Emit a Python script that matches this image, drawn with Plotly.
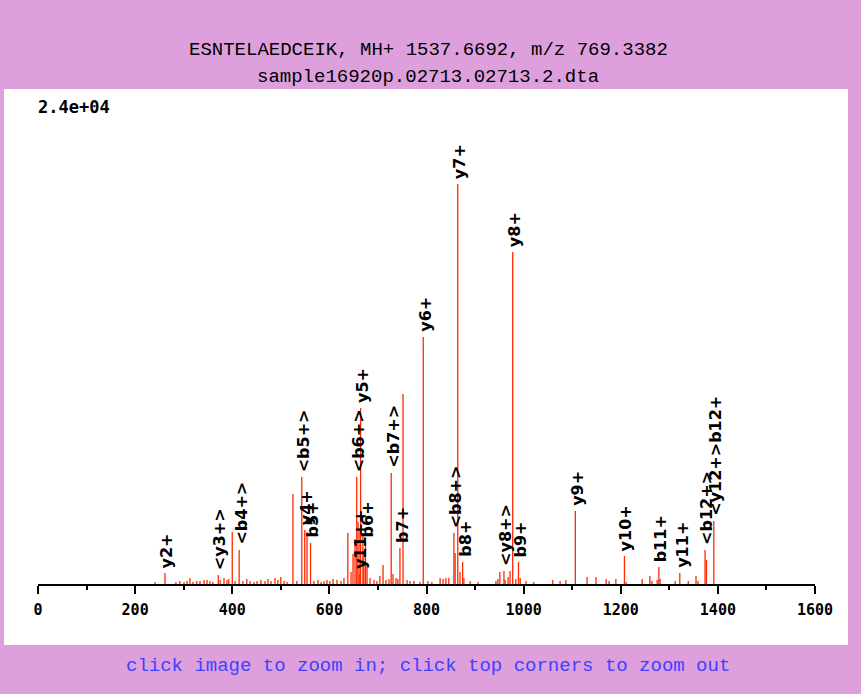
import plotly.graph_objects as go

# ---- data ----
peak_mz = [241, 261.5, 284, 292, 300.7, 307, 313, 319, 327, 333.6, 342, 348, 354, 360,
           371.2, 375, 383, 389.2, 393, 400, 405.7, 414.2, 422, 430, 436.6, 445, 451, 459,
           467.5, 473.6, 479.8, 488, 494, 500, 506.6, 512.8, 525, 533, 543.2, 549.3, 554,
           561.2, 568, 576.6, 583, 589, 595, 601, 607.5, 615.7, 624, 630, 638, 644.6, 648.7,
           652.8, 656.3, 659, 661.3, 663, 664.3, 669, 671, 674.3, 677.5, 683.7, 692, 698,
           704, 710.5, 716.6, 722.8, 727.3, 731, 737, 741, 745.3, 751.7, 760, 766, 774,
           786.6, 793.3, 803, 811, 828, 834, 840, 846, 856.4, 859, 864.4, 869, 874.4, 877,
           890, 906, 943, 947, 951, 959.5, 962, 968, 972, 977.5, 984, 989.4, 993, 1005,
           1021, 1060, 1075, 1087, 1106.5, 1130.6, 1149, 1170, 1176, 1190, 1207.6, 1211,
           1244, 1260, 1264, 1275, 1278.5, 1281, 1312, 1321.6, 1339, 1355, 1359, 1373.6,
           1376.5, 1391.6]
peak_int = [100, 545, 100, 150, 100, 150, 300, 100, 150, 150, 200, 200, 150, 100,
            450, 200, 300, 200, 250, 2580, 150, 1690, 150, 250, 150, 100, 150, 200,
            150, 250, 150, 300, 200, 350, 150, 100, 4465, 150, 5305, 2680, 2580,
            2035, 150, 200, 100, 150, 200, 150, 250, 200, 150, 300, 2530, 595, 1490,
            2230, 5305, 3075, 500, 2730, 8730, 2380, 1490, 2085, 990, 300, 200, 150,
            400, 940, 200, 250, 5505, 500, 300, 250, 1785, 9425, 200, 150, 150,
            100, 12250, 150, 100, 300, 250, 300, 300, 2530, 1540, 19840, 595, 1090, 300,
            150, 100, 150, 250, 595, 645, 200, 350, 645, 16465, 250, 1090, 300, 150,
            100, 200, 150, 200, 3620, 350, 350, 250, 150, 250, 1390, 100,
            250, 400, 150, 200, 845, 250, 150, 545, 150, 400, 150, 1690,
            1190, 3125]

label_mz = [261.5, 371.2, 414.2, 543.2, 549.3, 561.2, 656.3, 661.3, 664.3, 674.3,
            727.3, 745.3, 793.3, 856.4, 864.4, 874.4, 959.5, 977.5, 989.4, 1106.5,
            1207.6, 1278.5, 1321.6, 1373.6, 1391.6]
label_text = ["y2+", "<y3+>", "<b4+>", "<b5+>", "y4+", "b5+", "<b6+>", "y11++", "y5+", "b6+",
              "<b7+>", "b7+", "y6+", "<b8+>", "y7+", "b8+", "<y8+>", "y8+", "b9+", "y9+",
              "y10+", "b11+", "y11+", "<b12+>", "<y12+>b12+"]

x_ticks = [0, 200, 400, 600, 800, 1000, 1200, 1400, 1600]
title_line1 = "ESNTELAEDCEIK, MH+ 1537.6692, m/z 769.3382"
title_line2 = "sample16920p.02713.02713.2.dta"
scale_text = "2.4e+04"
footer_text = "click image to zoom in; click top corners to zoom out"
y_max = 24000

# ---- build stick spectrum ----
xs, ys = [], []
for m, v in zip(peak_mz, peak_int):
    xs += [m, m, None]
    ys += [0, v, None]

fig = go.Figure()
fig.add_trace(go.Scatter(x=xs, y=ys, mode="lines",
                         line=dict(color="#ff2a00", width=1.3),
                         hoverinfo="skip", showlegend=False))

PINK = "#dda0dd"
W, H = 861, 694
L, R, T, B = 38, 46, 100, 110
pw, ph = W - L - R, H - T - B

def px_x(p):
    return (p - L) / pw

def px_y(p):
    return (H - B - p) / ph

annotations = []
intensity_of = dict(zip(peak_mz, peak_int))
for m, t in zip(label_mz, label_text):
    annotations.append(dict(x=m, y=intensity_of[m], xref="x", yref="y",
                            text="<b>" + t.replace("<", "&lt;").replace(">", "&gt;") + "</b>",
                            textangle=-90, showarrow=False, xanchor="center",
                            yanchor="bottom", xshift=2, yshift=3,
                            font=dict(family="DejaVu Sans", size=16, color="black")))

annotations += [
    dict(x=px_x(428), y=px_y(50), xref="paper", yref="paper", text=title_line1,
         showarrow=False, xanchor="center", yanchor="middle",
         font=dict(family="Liberation Mono", size=19, color="black")),
    dict(x=px_x(428), y=px_y(77), xref="paper", yref="paper", text=title_line2,
         showarrow=False, xanchor="center", yanchor="middle",
         font=dict(family="Liberation Mono", size=19, color="black")),
    dict(x=px_x(428), y=px_y(666), xref="paper", yref="paper", text=footer_text,
         showarrow=False, xanchor="center", yanchor="middle",
         font=dict(family="Liberation Mono", size=19, color="#3f3fff")),
    dict(x=px_x(36), y=px_y(107), xref="paper", yref="paper", text="<b>" + scale_text + "</b>",
         showarrow=False, xanchor="left", yanchor="middle",
         font=dict(family="DejaVu Sans Mono", size=17, color="black")),
]

fig.update_layout(
    width=W, height=H,
    margin=dict(l=L, r=R, t=T, b=B, pad=0),
    paper_bgcolor=PINK, plot_bgcolor="white",
    annotations=annotations,
    shapes=[dict(type="rect", xref="paper", yref="paper",
                 x0=px_x(4), x1=px_x(848), y0=px_y(645), y1=px_y(89),
                 fillcolor="white", line=dict(width=0), layer="below")],
    xaxis=dict(range=[0, 1600], tickvals=x_ticks, ticktext=[str(v) for v in x_ticks],
               showline=True, linecolor="black", linewidth=1.5,
               ticks="outside", ticklen=8, tickwidth=1.5, tickcolor="black",
               minor=dict(dtick=100, tick0=0, ticks="outside", ticklen=4,
                          tickwidth=1.5, tickcolor="black", showgrid=False),
               showgrid=False, zeroline=False, ticklabelstandoff=3,
               tickfont=dict(family="DejaVu Sans Mono", size=15, color="black",
                             weight="bold"),
               fixedrange=True),
    yaxis=dict(range=[0, y_max], visible=False, fixedrange=True),
)

fig.write_html("out.html")
